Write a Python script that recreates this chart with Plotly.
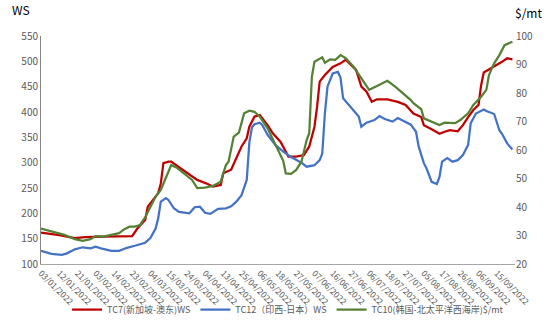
import plotly.graph_objects as go

# ---- tick labels (category axis, one label every 7 points) ----
tick_labels = ["03/01/2022", "12/01/2022", "21/01/2022", "03/02/2022", "14/02/2022",
               "23/02/2022", "04/03/2022", "15/03/2022", "24/03/2022", "04/04/2022",
               "13/04/2022", "25/04/2022", "06/05/2022", "18/05/2022", "27/05/2022",
               "07/06/2022", "16/06/2022", "27/06/2022", "06/07/2022", "18/07/2022",
               "27/07/2022", "05/08/2022", "17/08/2022", "26/08/2022", "06/09/2022",
               "15/09/2022"]
tick_step = 7
n_points = 183

# ---- TC7 (WS, left axis) ----
tc7_idx = [0, 7, 13, 17, 24, 32, 35, 37, 40, 41, 43, 45, 46, 47, 49, 50, 53, 57, 60, 64,
           66, 69, 70, 73, 75, 77, 79, 80, 82, 84, 87, 89, 92, 95, 98, 101, 103, 105, 106, 107,
           109, 112, 115, 117, 119, 121, 123, 125, 127, 129, 133, 137, 140, 143, 146, 147, 150, 153, 155, 157,
           160, 162, 164, 166, 168, 169, 170, 172, 174, 177, 179, 181]
tc7_ws = [162, 157, 151, 153, 154, 154, 155, 170, 187, 213, 226, 240, 259, 299, 302, 302, 291, 276, 266, 258,
          253, 256, 279, 286, 309, 332, 348, 371, 391, 394, 374, 358, 341, 312, 312, 315, 332, 371, 410, 460,
          473, 489, 496, 503, 493, 483, 450, 440, 420, 425, 425, 420, 414, 397, 390, 374, 366, 357, 361, 364,
          362, 374, 390, 404, 414, 453, 478, 484, 489, 499, 506, 504]

# ---- TC12 (WS, left axis) ----
tc12_idx = [0, 4, 8, 10, 13, 16, 19, 21, 23, 27, 30, 33, 36, 40, 42, 44, 45, 46, 48, 49,
            51, 53, 57, 59, 61, 63, 65, 68, 71, 73, 75, 77, 79, 80, 81, 82, 84, 85, 87, 90,
            93, 96, 100, 102, 105, 107, 108, 109, 110, 112, 114, 115, 116, 119, 122, 123, 125, 128, 130, 132,
            135, 137, 140, 142, 144, 145, 147, 148, 150, 152, 153, 154, 156, 158, 160, 162, 164, 165, 167, 170,
            171, 174, 176, 177, 179, 181]
tc12_ws = [126, 120, 118, 121, 129, 133, 131, 134, 131, 126, 126, 132, 136, 142, 151, 170, 190, 223, 230, 226,
           210, 203, 200, 212, 213, 201, 199, 209, 210, 214, 223, 236, 266, 340, 370, 376, 379, 374, 355, 335,
           322, 311, 300, 292, 295, 305, 318, 397, 450, 476, 479, 468, 427, 410, 391, 371, 379, 384, 392, 386,
           381, 388, 381, 375, 361, 332, 299, 289, 262, 258, 272, 302, 309, 302, 305, 315, 335, 378, 397, 405,
           402, 396, 364, 357, 338, 326]

# ---- TC10 ($/mt, right axis) ----
tc10_idx = [0, 5, 9, 13, 16, 19, 21, 24, 30, 32, 34, 36, 38, 40, 42, 44, 46, 48, 50, 52,
            55, 58, 60, 63, 66, 69, 71, 72, 74, 76, 78, 80, 82, 84, 87, 90, 93, 94, 96, 98,
            100, 102, 103, 104, 105, 108, 109, 111, 113, 115, 117, 120, 123, 126, 129, 133, 136, 139, 142, 143,
            146, 147, 150, 153, 155, 159, 161, 164, 166, 169, 171, 172, 174, 176, 178, 181]
tc10_usd = [32.4, 31.3, 30.2, 28.7, 28.1, 28.7, 29.8, 29.6, 30.8, 32.2, 33.1, 33.1, 33.7, 36.4, 40.1, 43.6, 46.0, 50.5, 54.7, 53.9,
            51.8, 49.5, 46.6, 46.8, 47.4, 48.9, 54.7, 55.9, 64.7, 66.1, 72.9, 73.8, 73.4, 71.7, 67.6, 61.8, 56.2, 51.8, 51.6, 53.0,
            55.9, 63.5, 65.9, 85.7, 91.0, 92.5, 90.6, 91.8, 91.6, 93.3, 92.2, 89.2, 85.2, 81.1, 82.5, 84.3, 82.2, 80.0, 77.5, 76.4,
            74.3, 71.1, 69.9, 68.8, 69.6, 69.4, 70.5, 72.9, 75.8, 78.7, 81.1, 86.3, 90.4, 93.3, 96.8, 98.0]

names = ["TC7(新加坡-澳东)WS", "TC12（印西-日本）WS", "TC10(韩国-北太平洋西海岸)$/mt"]
colors = ["#C00000", "#4472C4", "#548235"]

FONT = "Noto Sans CJK SC, Noto Sans, sans-serif"
GREY = "#595959"

fig = go.Figure()
fig.add_trace(go.Scatter(x=tc7_idx, y=tc7_ws, mode="lines", name=names[0],
                         line=dict(color=colors[0], width=2.25), yaxis="y"))
fig.add_trace(go.Scatter(x=tc12_idx, y=tc12_ws, mode="lines", name=names[1],
                         line=dict(color=colors[1], width=2.25), yaxis="y"))
fig.add_trace(go.Scatter(x=tc10_idx, y=tc10_usd, mode="lines", name=names[2],
                         line=dict(color=colors[2], width=2.25), yaxis="y2"))

fig.update_layout(
    width=549, height=326,
    margin=dict(l=41, r=34, t=36, b=62, autoexpand=False),
    paper_bgcolor="white", plot_bgcolor="white",
    font=dict(family=FONT, color=GREY, size=10),
    showlegend=True,
    legend=dict(orientation="h", x=0.055, xanchor="left", y=-0.2, yanchor="middle",
                font=dict(size=9, color=GREY), bgcolor="rgba(0,0,0,0)",
                itemwidth=30, tracegroupgap=0),
    xaxis=dict(range=[0, n_points - 1], tickmode="array", automargin=False,
               tickvals=[i * tick_step for i in range(len(tick_labels))],
               ticktext=tick_labels, tickangle=45, tickfont=dict(size=8.5, color=GREY),
               showgrid=False, zeroline=False, showline=True, linecolor="#A6A6A6",
               linewidth=1, ticks=""),
    yaxis=dict(range=[100, 550], dtick=50, showgrid=False, zeroline=False, automargin=False,
               showline=True, linecolor="#868686", linewidth=1, ticks="",
               tickfont=dict(size=10, color=GREY)),
    yaxis2=dict(range=[20, 100], dtick=10, overlaying="y", side="right", automargin=False,
                showgrid=False, zeroline=False, showline=False, ticks="",
                tickfont=dict(size=10, color=GREY)),
    annotations=[
        dict(text="WS", xref="paper", yref="paper", x=-0.065, y=1.118, xanchor="left",
             yanchor="middle", showarrow=False, font=dict(size=12, color="#000000")),
        dict(text="$/mt", xref="paper", yref="paper", x=0.995, y=1.105, xanchor="left",
             yanchor="middle", showarrow=False, font=dict(size=12, color="#000000")),
    ],
)

fig.write_html("out.html")
